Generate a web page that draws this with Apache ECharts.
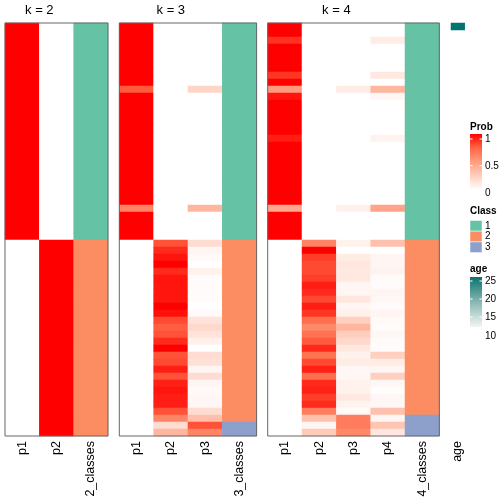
<!DOCTYPE html>
<html>
<head>
<meta charset="utf-8">
<script src="https://cdn.jsdelivr.net/npm/echarts@6/dist/echarts.min.js"></script>
<style>html,body{margin:0;padding:0;background:#fff}#c{width:504px;height:504px}</style>
</head>
<body>
<div id="c"></div>
<script>
// ---------- data (row order top -> bottom, 59 samples) ----------
const k2_p1 = [1,1,1,1,1,1,1,1,1,1,1,1,1,1,1,1,1,1,1,1,1,1,1,1,1,1,1,1,1,1,1,
  0,0,0,0,0,0,0,0,0,0,0,0,0,0,0,0,0,0,0,0,0,0,0,0,0,0,0,0];
const k2_p2 = [0,0,0,0,0,0,0,0,0,0,0,0,0,0,0,0,0,0,0,0,0,0,0,0,0,0,0,0,0,0,0,
  1,1,1,1,1,1,1,1,1,1,1,1,1,1,1,1,1,1,1,1,1,1,1,1,1,1,1,1];
const k2_class = [1,1,1,1,1,1,1,1,1,1,1,1,1,1,1,1,1,1,1,1,1,1,1,1,1,1,1,1,1,1,1,
  2,2,2,2,2,2,2,2,2,2,2,2,2,2,2,2,2,2,2,2,2,2,2,2,2,2,2,2];

const k3_p1 = [1,1,1,1,1,1,1,1,1,0.78,1,1,1,1,1,1,1,1,1,1,1,1,1,1,1,1,0.62,1,1,1,1,
  0,0,0,0,0,0,0,0,0,0,0,0,0,0,0,0,0,0,0,0,0,0,0,0,0,0,0,0];
const k3_p2 = [0,0,0,0,0,0,0,0,0,0,0,0,0,0,0,0,0,0,0,0,0,0,0,0,0,0,0,0,0,0,0,
  0.8,0.9,0.95,1.0,0.9,0.95,0.95,0.95,0.95,1.0,0.96,0.82,0.77,0.8,0.9,1.0,0.8,0.82,0.93,0.8,0.92,0.95,0.93,0.93,0.8,0.62,0.18,0.38];
const k3_p3 = [0,0,0,0,0,0,0,0,0,0.22,0,0,0,0,0,0,0,0,0,0,0,0,0,0,0,0,0.38,0,0,0,0,
  0.18,0.05,0.03,0,0.07,0.02,0.02,0.02,0.02,0,0.03,0.15,0.2,0.15,0.08,0,0.18,0.16,0.05,0.18,0.05,0.03,0.04,0.04,0.18,0.33,0.8,0.62];
const k3_class = [1,1,1,1,1,1,1,1,1,1,1,1,1,1,1,1,1,1,1,1,1,1,1,1,1,1,1,1,1,1,1,
  2,2,2,2,2,2,2,2,2,2,2,2,2,2,2,2,2,2,2,2,2,2,2,2,2,2,3,3];

const k4_p1 = [1,1,0.88,1,1,1,1,0.87,1,0.52,0.95,1,1,1,1,1,0.93,1,1,1,1,1,1,1,1,1,0.45,1,1,1,1,
  0,0,0,0,0,0,0,0,0,0,0,0,0,0,0,0,0,0,0,0,0,0,0,0,0,0,0,0];
const k4_p2 = [0,0,0,0,0,0,0,0,0,0,0,0,0,0,0,0,0,0,0,0,0,0,0,0,0,0,0,0,0,0,0,
  0.62,1.0,0.85,0.82,0.82,0.85,0.93,0.9,0.83,0.93,0.87,0.72,0.6,0.7,0.78,0.9,0.7,0.82,0.92,0.72,0.9,0.92,0.85,0.9,0.65,0.32,0.05,0.27];
const k4_p3 = [0,0,0,0,0,0,0,0,0,0.1,0,0,0,0,0,0,0,0,0,0,0,0,0,0,0,0,0.08,0,0,0,0,
  0.07,0,0.1,0.13,0.12,0.12,0.05,0.05,0.13,0.05,0.08,0.25,0.38,0.26,0.2,0.12,0.07,0.1,0.04,0.04,0.07,0.07,0.12,0.06,0.03,0.65,0.65,0.6];
const k4_p4 = [0,0,0.1,0,0,0,0,0.12,0,0.38,0.04,0,0,0,0,0,0.06,0,0,0,0,0,0,0,0,0,0.47,0,0,0,0,
  0.32,0,0.05,0.05,0.06,0.02,0.02,0.05,0.04,0.02,0.05,0.03,0.02,0.04,0.02,0.02,0.25,0.1,0.05,0.25,0.04,0.01,0.04,0.04,0.32,0.05,0.3,0.13];
const k4_class = [1,1,1,1,1,1,1,1,1,1,1,1,1,1,1,1,1,1,1,1,1,1,1,1,1,1,1,1,1,1,1,
  2,2,2,2,2,2,2,2,2,2,2,2,2,2,2,2,2,2,2,2,2,2,2,2,2,3,3,3];

// age annotation: only the first sample has a value
const age = [25];

const panelTitles = ['k = 2', 'k = 3', 'k = 4'];
const probLegendTicks = ['1', '0.5', '0'];
const classLegend = ['1', '2', '3'];
const ageLegendTicks = ['25', '20', '15', '10'];

// ---------- layout / style ----------
const FONT = '"Liberation Sans", Arial, Helvetica, sans-serif';
const TOP = 23, H = 413, CW = 34.33;
const classColors = ['#66C2A5', '#FC8D62', '#8DA0CB'];
const probColors = ['#FFFFFF', '#FFCFBF', '#FF9E81', '#FF6746', '#FF0000'];
const ageColors = ['#FFFFFF', '#00756F'];

const panels = [
  {k: 2, left: 5, probs: [k2_p1, k2_p2], cls: k2_class},
  {k: 3, left: 119.3, probs: [k3_p1, k3_p2, k3_p3], cls: k3_class},
  {k: 4, left: 267.7, probs: [k4_p1, k4_p2, k4_p3, k4_p4], cls: k4_class}
];
const rowIds = k2_p1.map((_, i) => String(i));

const grid = [], xAxis = [], yAxis = [], series = [], title = [], graphic = [];
const probSeriesIdx = [], classSeriesIdx = [];

panels.forEach((p, gi) => {
  const nCol = p.probs.length + 1;
  const w = CW * nCol;
  grid.push({left: p.left, top: TOP, width: w, height: H, containLabel: false});
  const cats = p.probs.map((_, j) => 'p' + (j + 1)).concat([p.k + '_classes']);
  xAxis.push({type: 'category', gridIndex: gi, data: cats, position: 'bottom',
    axisLine: {show: false}, axisTick: {show: false}, splitLine: {show: false},
    axisLabel: {rotate: 90, interval: 0, margin: 5, fontSize: 12.5, color: '#000', fontFamily: FONT}});
  yAxis.push({type: 'category', gridIndex: gi, data: rowIds, inverse: true, show: false});
  const probData = [];
  p.probs.forEach((arr, j) => arr.forEach((v, r) => probData.push([j, r, v])));
  probSeriesIdx.push(series.length);
  series.push({type: 'heatmap', xAxisIndex: gi, yAxisIndex: gi, data: probData,
    progressive: 0, emphasis: {disabled: true}, itemStyle: {borderWidth: 0}});
  const clsData = p.cls.map((v, r) => [p.probs.length, r, v]);
  classSeriesIdx.push(series.length);
  series.push({type: 'heatmap', xAxisIndex: gi, yAxisIndex: gi, data: clsData,
    progressive: 0, emphasis: {disabled: true}, itemStyle: {borderWidth: 0}});
  title.push({text: panelTitles[gi], left: p.left + CW * p.probs.length / 2, top: 4, padding: 0,
    textAlign: 'center', textStyle: {fontSize: 13, fontWeight: 'normal', color: '#000', fontFamily: FONT}});
  graphic.push({type: 'rect', z: 100, silent: true,
    shape: {x: p.left, y: TOP, width: w, height: H},
    style: {fill: null, stroke: '#666', lineWidth: 1}});
});

// age column
const ageGi = grid.length;
grid.push({left: 451, top: TOP, width: 13.7, height: H});
xAxis.push({type: 'category', gridIndex: ageGi, data: ['age'], position: 'bottom',
  axisLine: {show: false}, axisTick: {show: false},
  axisLabel: {rotate: 90, interval: 0, margin: 5, fontSize: 12.5, color: '#000', fontFamily: FONT}});
yAxis.push({type: 'category', gridIndex: ageGi, data: rowIds, inverse: true, show: false});
const ageSeries = series.length;
series.push({type: 'heatmap', xAxisIndex: ageGi, yAxisIndex: ageGi,
  data: age.map((v, r) => [0, r, v]), progressive: 0, emphasis: {disabled: true}});

// ---------- legends (drawn as graphics) ----------
const LX = 470, LW = 12;
const txt = (x, y, s, bold) => ({type: 'text', z: 50, silent: true, x, y,
  style: {text: s, fontSize: 10, fontFamily: FONT, fill: '#000', fontWeight: bold ? 'bold' : 'normal',
    textVerticalAlign: 'middle', textAlign: 'left'}});
graphic.push(txt(LX, 127, 'Prob', true));
graphic.push({type: 'rect', z: 50, silent: true, shape: {x: LX, y: 134, width: LW, height: 56},
  style: {fill: new echarts.graphic.LinearGradient(0, 0, 0, 1, [
    {offset: 0, color: '#FF0000'}, {offset: 0.25, color: '#FF6746'}, {offset: 0.5, color: '#FF9E81'},
    {offset: 0.75, color: '#FFCFBF'}, {offset: 1, color: '#FFFFFF'}])}});
[139, 165.7].forEach(y => {
  graphic.push({type: 'line', z: 51, silent: true, shape: {x1: LX, y1: y, x2: LX + 2.5, y2: y}, style: {stroke: '#fff', lineWidth: 1}});
  graphic.push({type: 'line', z: 51, silent: true, shape: {x1: LX + LW - 2.5, y1: y, x2: LX + LW, y2: y}, style: {stroke: '#fff', lineWidth: 1}});
});
[139, 166, 193].forEach((y, i) => graphic.push(txt(LX + 15, y, probLegendTicks[i])));
graphic.push(txt(LX, 211, 'Class', true));
[220.5, 231.2, 241.9].forEach((y, i) => {
  graphic.push({type: 'rect', z: 50, silent: true, shape: {x: LX, y: y, width: LW, height: 10.7},
    style: {fill: classColors[i], stroke: '#fff', lineWidth: 0.5}});
  graphic.push(txt(LX + 15, y + 5.5, classLegend[i]));
});
graphic.push(txt(LX, 269, 'age', true));
graphic.push({type: 'rect', z: 50, silent: true, shape: {x: LX, y: 277, width: LW, height: 50},
  style: {fill: new echarts.graphic.LinearGradient(0, 0, 0, 1, [
    {offset: 0, color: '#0C736E'}, {offset: 0.5, color: '#88B7B3'}, {offset: 1, color: '#F2F6F5'}])}});
[281, 299, 317].forEach(y => {
  graphic.push({type: 'line', z: 51, silent: true, shape: {x1: LX, y1: y, x2: LX + 2.5, y2: y}, style: {stroke: '#fff', lineWidth: 1}});
  graphic.push({type: 'line', z: 51, silent: true, shape: {x1: LX + LW - 2.5, y1: y, x2: LX + LW, y2: y}, style: {stroke: '#fff', lineWidth: 1}});
});
[281, 299, 317, 336].forEach((y, i) => graphic.push(txt(LX + 15, y, ageLegendTicks[i])));

const chart = echarts.init(document.getElementById('c'), null, {renderer: 'canvas'});
chart.setOption({
  animation: false,
  backgroundColor: '#fff',
  title, grid, xAxis, yAxis, series, graphic,
  visualMap: [
    {type: 'continuous', show: false, min: 0, max: 1, seriesIndex: probSeriesIdx, inRange: {color: probColors}},
    {type: 'piecewise', show: false, seriesIndex: classSeriesIdx,
      pieces: [{value: 1, color: classColors[0]}, {value: 2, color: classColors[1]}, {value: 3, color: classColors[2]}]},
    {type: 'continuous', show: false, min: 10, max: 25, seriesIndex: [ageSeries], inRange: {color: ageColors}}
  ]
});
</script>
</body>
</html>
